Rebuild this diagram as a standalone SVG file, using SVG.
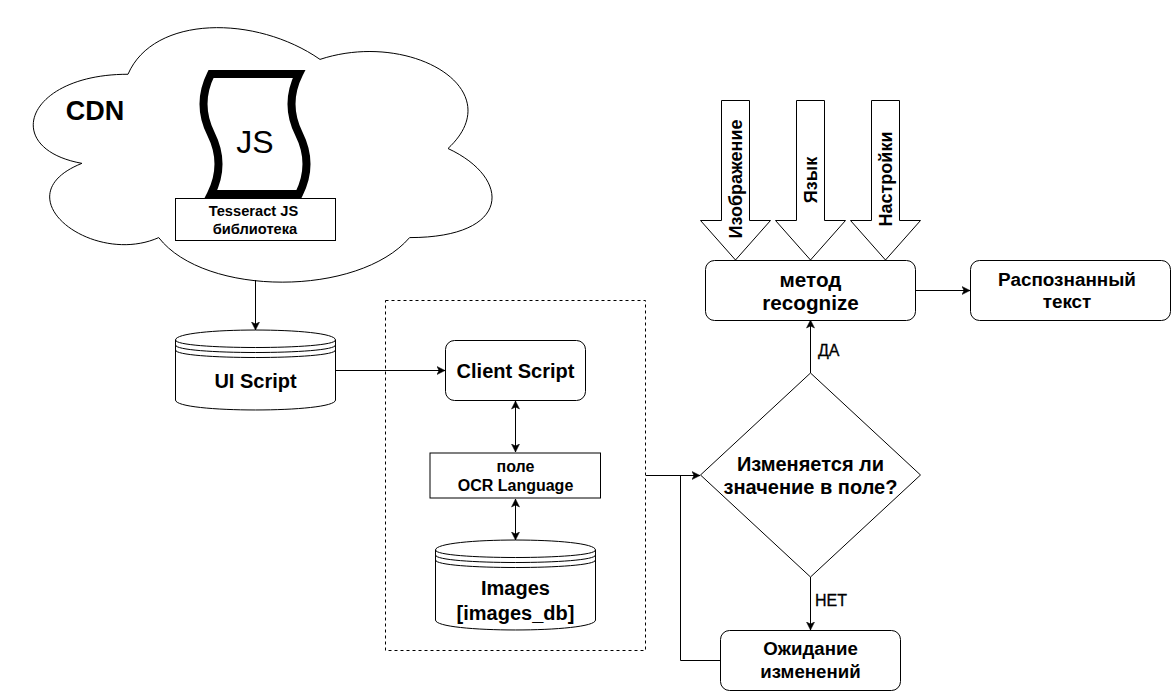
<svg xmlns="http://www.w3.org/2000/svg" width="1171" height="691" viewBox="0 0 1171 691">
<style>
.s{fill:#fff;stroke:#000;stroke-width:1}
.l{fill:none;stroke:#000;stroke-width:1}
.c{fill:none;stroke:#000;stroke-width:1;marker-end:url(#a)}
.d{fill:none;stroke:#000;stroke-width:1;marker-start:url(#a);marker-end:url(#a)}
text{font-family:"Liberation Sans",Arial,sans-serif;fill:#000;text-anchor:middle}
.b{font-weight:700}
.f20{font-size:20px}
.f16{font-size:16px}
.f14{font-size:14.67px}
.f18{font-size:18.67px}
.v{font-size:18px}
.lab{font-size:16px;text-anchor:start;stroke:#000;stroke-width:.3}
</style>
<defs>
<marker id="a" markerUnits="userSpaceOnUse" markerWidth="9" markerHeight="9" viewBox="0 0 9 9" refX="8.5" refY="4.5" orient="auto-start-reverse"><path d="M0.5 0.5L8.5 4.5L0.5 8.5L2.5 4.5Z" fill="#000" stroke="#000" stroke-width="0.5"/></marker>
</defs>
<rect width="1171" height="691" fill="#fff"/>
<g id="cloud">
<path class="s" d="M128 74.25C25.6 74.25 0 148.5 81.92 163.35C0 196 92.16 267.3 158.72 237.6C204.8 297 358.4 297 409.6 237.6C512 237.6 512 178.2 448 148.5C512 89.1 409.6 29.7 320 59.4C256 14.85 153.6 14.85 128 74.25Z"/>
<text class="b" x="95" y="120" font-size="27">CDN</text>
</g>
<g id="js-file">
<path d="M211 74L299 74Q284 104 299 134T299 194L211 194Q226 164 211 134T211 74Z" fill="#fff" stroke="#000" stroke-width="8"/>
<text x="255" y="153" font-size="32">JS</text>
</g>
<g id="tesseract-label">
<rect class="s" x="175.5" y="198.5" width="160" height="42"/>
<text class="b f14" x="253.5" y="216">Tesseract JS</text>
<text class="b f14" x="255" y="234">библиотека</text>
</g>
<g id="group-box"><rect x="385.5" y="300.5" width="260" height="350" fill="none" stroke="#000" stroke-dasharray="3 3"/></g>
<g id="connectors">
<path class="c" d="M255.5 280V330"/>
<path class="c" d="M335 370.5H445"/>
<path class="d" d="M515.5 401V452"/>
<path class="d" d="M515.5 499V540"/>
<path class="c" d="M646 475.5H700"/>
<path class="l" d="M720 660.5H680.5V475.5"/>
<path class="c" d="M810.5 577V630"/>
<path class="c" d="M810.5 373V320"/>
<path class="c" d="M916 290.5H970"/>
</g>
<g id="ui-script">
<path class="s" d="M175.5 340C175.5 326.7 335.5 326.7 335.5 340V400C335.5 413.3 175.5 413.3 175.5 400Z"/>
<path class="l" d="M175.5 340C175.5 350 335.5 350 335.5 340M175.5 345C175.5 355 335.5 355 335.5 345M175.5 350C175.5 360 335.5 360 335.5 350"/>
<text class="b f20" x="255.5" y="388">UI Script</text>
</g>
<g id="client-script">
<rect class="s" x="445.5" y="340.5" width="140" height="60" rx="9" ry="9"/>
<text class="b f20" x="515.5" y="378">Client Script</text>
</g>
<g id="ocr-field">
<rect class="s" x="430" y="453" width="170.5" height="45"/>
<text class="b f16" x="515.5" y="472">поле</text>
<text class="b f16" x="515.5" y="491">OCR Language</text>
</g>
<g id="images-db">
<path class="s" d="M435.5 550C435.5 536.7 595.5 536.7 595.5 550V620C595.5 633.3 435.5 633.3 435.5 620Z"/>
<path class="l" d="M435.5 550C435.5 560 595.5 560 595.5 550M435.5 555C435.5 565 595.5 565 595.5 555M435.5 560C435.5 570 595.5 570 595.5 560"/>
<text class="b f20" x="515.5" y="595">Images</text>
<text class="b f20" x="515.5" y="620">[images_db]</text>
</g>
<g id="decision">
<path class="s" d="M810.5 373L920.5 475L810.5 577L700.5 475Z"/>
<text class="b f20" x="810.5" y="471">Изменяется ли</text>
<text class="b f20" x="810.5" y="494">значение в поле?</text>
</g>
<g id="wait">
<rect class="s" x="720.5" y="630.5" width="180" height="60" rx="9" ry="9"/>
<text class="b f18" x="810.5" y="655">Ожидание</text>
<text class="b f18" x="810.5" y="678">изменений</text>
</g>
<g id="recognize">
<rect class="s" x="705.5" y="260.5" width="210" height="60" rx="9" ry="9"/>
<text class="b" font-size="20.67" x="810.5" y="287">метод</text>
<text class="b" font-size="20.67" x="810.5" y="310">recognize</text>
</g>
<g id="result">
<rect class="s" x="970.5" y="260.5" width="200" height="60" rx="9" ry="9"/>
<text class="b" font-size="18.9" x="1067" y="286">Распознанный</text>
<text class="b" font-size="18.9" x="1067" y="308">текст</text>
</g>
<g id="input-image">
<path class="s" d="M721.5 100.5H749.5V220.5H770.5L735.5 260L700.5 220.5H721.5Z"/>
<text class="b v" transform="translate(741.5 179) rotate(-90)">Изображение</text>
</g>
<g id="input-language">
<path class="s" d="M796.5 100.5H824.5V220.5H845.5L810.5 260L775.500 220.5H796.5Z"/>
<text class="b v" transform="translate(817 180) rotate(-90)">Язык</text>
</g>
<g id="input-settings">
<path class="s" d="M871.5 100.5H899.5V220.5H920.5L885.5 260L850.5 220.5H871.5Z"/>
<text class="b v" transform="translate(892 179) rotate(-90)">Настройки</text>
</g>
<g id="labels">
<text class="lab" x="818" y="356">ДА</text>
<text class="lab" x="815" y="606">НЕТ</text>
</g>
</svg>
